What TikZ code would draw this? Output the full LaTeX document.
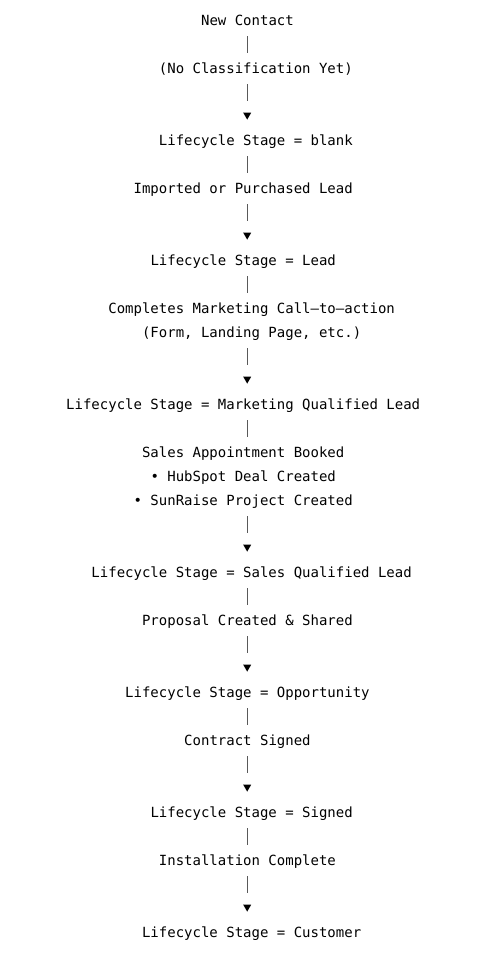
\documentclass[tikz,border=0pt]{standalone}
\usepackage{fontspec}
\setmonofont{DejaVu Sans Mono}
\usetikzlibrary{shapes.geometric}

\tikzset{
  line/.style={anchor=base west, inner sep=0pt, text height=10pt, text depth=3pt,
    font=\ttfamily\fontsize{14}{17}\selectfont},
  bar/.style={draw=black!65, line width=1.4pt, shorten <=8pt, shorten >=10pt},
  tobar/.style={bar, shorten >=11.5pt},
  tip/.style={regular polygon, regular polygon sides=3, shape border rotate=180,
    fill=black, inner sep=0pt, minimum size=9.2pt}
}

\begin{document}
\begin{tikzpicture}[x=1pt, y=-1pt]
		\useasboundingbox (0,0) rectangle (498,961);
		\coordinate (spine) at (247.2,0);
		% text rows
		\node[line] (new) at (200.88,25) {New Contact};
		\node[line] (nocl) at (158.73,73) {(No Classification Yet)};
		\node[line] (blank) at (158.73,145) {Lifecycle Stage = blank};
		\node[line] (import) at (133.44,193) {Imported or Purchased Lead};
		\node[line] (lead) at (150.3,265) {Lifecycle Stage = Lead};
		\node[line] (cta) at (108.15,313) {Completes Marketing Call–to–action};
		\node[line] (form) at (133.44,337) {\phantom{x}(Form, Landing Page, etc.)};
		\node[line] (mql) at (66,409) {Lifecycle Stage = Marketing Qualified Lead};
		\node[line] (appt) at (141.87,457) {Sales Appointment Booked};
		\node[line] (deal) at (150.3,481) {• HubSpot Deal Created};
		\node[line] (proj) at (133.44,505) {• SunRaise Project Created};
		\node[line] (sql) at (91.29,577) {Lifecycle Stage = Sales Qualified Lead};
		\node[line] (prop) at (141.87,625) {Proposal Created \& Shared};
		\node[line] (opp) at (125.01,697) {Lifecycle Stage = Opportunity};
		\node[line] (contract) at (184.02,745) {Contract Signed};
		\node[line] (signed) at (150.3,817) {Lifecycle Stage = Signed};
		\node[line] (install) at (158.73,865) {Installation Complete};
		\node[line] (cust) at (141.87,937) {Lifecycle Stage = Customer};
		% arrow heads
		\node[tip] (t1) at (247.2,115) {};
		\node[tip] (t2) at (247.2,235) {};
		\node[tip] (t3) at (247.2,379) {};
		\node[tip] (t4) at (247.2,547) {};
		\node[tip] (t5) at (247.2,667) {};
		\node[tip] (t6) at (247.2,787) {};
		\node[tip] (t7) at (247.2,907) {};
		% bars
		\draw[bar] (spine |- new.south) -- (spine |- nocl.north);
		\draw[tobar] (spine |- nocl.south) -- (t1.north);
		\draw[bar] (spine |- blank.south) -- (spine |- import.north);
		\draw[tobar] (spine |- import.south) -- (t2.north);
		\draw[bar] (spine |- lead.south) -- (spine |- cta.north);
		\draw[tobar] (spine |- form.south) -- (t3.north);
		\draw[bar] (spine |- mql.south) -- (spine |- appt.north);
		\draw[tobar] (spine |- proj.south) -- (t4.north);
		\draw[bar] (spine |- sql.south) -- (spine |- prop.north);
		\draw[tobar] (spine |- prop.south) -- (t5.north);
		\draw[bar] (spine |- opp.south) -- (spine |- contract.north);
		\draw[tobar] (spine |- contract.south) -- (t6.north);
		\draw[bar] (spine |- signed.south) -- (spine |- install.north);
		\draw[tobar] (spine |- install.south) -- (t7.north);
	\end{tikzpicture}
\end{document}
